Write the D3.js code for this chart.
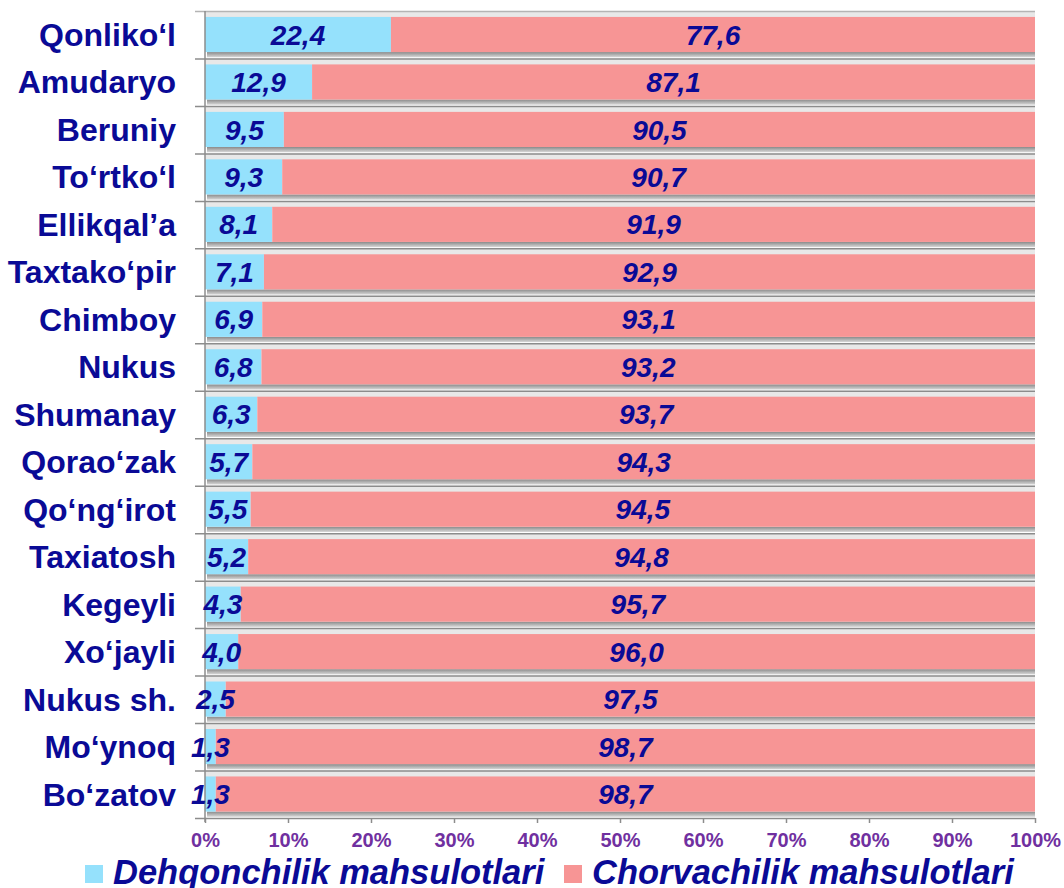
<!DOCTYPE html>
<html>
<head>
<meta charset="utf-8">
<script src="https://cdn.jsdelivr.net/npm/d3@7"></script>
<style>
  body { margin: 0; background: #fff; }
  svg { display: block; font-family: "Liberation Sans", Arial, sans-serif; }
</style>
</head>
<body>
<div id="chart"></div>
<script>
// districts, top to bottom
const districts = ["Qonliko‘l", "Amudaryo", "Beruniy", "To‘rtko‘l", "Ellikqal’a", "Taxtako‘pir",
  "Chimboy", "Nukus", "Shumanay", "Qorao‘zak", "Qo‘ng‘irot", "Taxiatosh", "Kegeyli",
  "Xo‘jayli", "Nukus sh.", "Mo‘ynoq", "Bo‘zatov"];
// share of crop products, %
const dehqonchilik = [22.4, 12.9, 9.5, 9.3, 8.1, 7.1, 6.9, 6.8, 6.3, 5.7, 5.5, 5.2, 4.3, 4.0, 2.5, 1.3, 1.3];
// share of livestock products, %
const chorvachilik = [77.6, 87.1, 90.5, 90.7, 91.9, 92.9, 93.1, 93.2, 93.7, 94.3, 94.5, 94.8, 95.7, 96.0, 97.5, 98.7, 98.7];
const seriesNames = ["Dehqonchilik mahsulotlari", "Chorvachilik mahsulotlari"];
const xTicks = [0, 10, 20, 30, 40, 50, 60, 70, 80, 90, 100];

const width = 1064, height = 888;
const margin = {top: 11, right: 29, bottom: 70, left: 205};
const colors = ["#95e1fc", "#f79595"];
const navy = "#0a0a96";

const rows = districts.map((name, i) => ({name, a: dehqonchilik[i], b: chorvachilik[i]}));

const x = d3.scaleLinear().domain([0, 100]).range([margin.left, width - margin.right]);
const y = d3.scaleBand().domain(districts).range([margin.top, height - margin.bottom]).paddingInner(0);
const bw = y.bandwidth();
const barTop = d => y(d.name) + bw * 0.125;
const barH = bw * 0.74;

const svg = d3.select("#chart").append("svg")
    .attr("width", width)
    .attr("height", height);

const defs = svg.append("defs");
const grad = defs.append("linearGradient").attr("id", "shadow").attr("x1", 0).attr("x2", 0).attr("y1", 0).attr("y2", 1);
grad.append("stop").attr("offset", "0%").attr("stop-color", "#8a8a8a");
grad.append("stop").attr("offset", "100%").attr("stop-color", "#d8d8d8");

// light floor strips above each bar
svg.append("g").selectAll("rect")
  .data(rows)
  .join("rect")
    .attr("x", x(0))
    .attr("y", d => y(d.name))
    .attr("width", x(100) - x(0))
    .attr("height", bw * 0.15)
    .attr("fill", "#e8e8e8");

// shadows under bars
svg.append("g").selectAll("rect")
  .data(rows)
  .join("rect")
    .attr("x", x(0) + 2)
    .attr("y", d => barTop(d) + barH)
    .attr("width", x(100) - x(0) - 2)
    .attr("height", bw * 0.11)
    .attr("fill", "url(#shadow)");

// band separators
svg.append("g").selectAll("line")
  .data(districts)
  .join("line")
    .attr("x1", x(0) - 10)
    .attr("x2", x(100))
    .attr("y1", d => y(d) + 0.5)
    .attr("y2", d => y(d) + 0.5)
    .attr("stroke", d => d === districts[0] ? "#b4b4b4" : "#8c8c8c")
    .attr("stroke-width", 1.5);

// stacked bars
svg.append("g").selectAll("rect")
  .data(rows)
  .join("rect")
    .attr("x", x(0))
    .attr("y", barTop)
    .attr("width", d => x(d.a) - x(0))
    .attr("height", barH)
    .attr("fill", colors[0]);

svg.append("g").selectAll("rect")
  .data(rows)
  .join("rect")
    .attr("x", d => x(d.a))
    .attr("y", barTop)
    .attr("width", d => x(d.a + d.b) - x(d.a))
    .attr("height", barH)
    .attr("fill", colors[1]);

// left axis
svg.append("line")
  .attr("x1", x(0)).attr("x2", x(0))
  .attr("y1", margin.top).attr("y2", height - margin.bottom + 4)
  .attr("stroke", "#8c8c8c").attr("stroke-width", 1.5);

// bottom axis
const xAxis = svg.append("g")
  .attr("transform", `translate(0,${height - margin.bottom})`)
  .call(d3.axisBottom(x).tickValues(xTicks).tickFormat(d => d + "%").tickSize(5).tickPadding(10));
xAxis.select(".domain").attr("stroke", "#8c8c8c").attr("stroke-width", 1.5)
  .attr("d", `M${x(0) - 10},0.5H${x(100)}`);
xAxis.selectAll(".tick line").attr("stroke", "#8c8c8c").attr("stroke-width", 1.5);
xAxis.selectAll(".tick text")
  .attr("fill", "#7030a0")
  .attr("font-size", 20)
  .attr("font-weight", "bold")
  .attr("font-family", "Liberation Sans, Arial, sans-serif");

// category labels
svg.append("g").selectAll("text")
  .data(rows)
  .join("text")
    .attr("x", 176)
    .attr("y", d => barTop(d) + barH / 2)
    .attr("dy", "0.36em")
    .attr("text-anchor", "end")
    .attr("font-size", 32)
    .attr("font-weight", "bold")
    .attr("fill", navy)
    .text(d => d.name);

// value labels
const fmt = v => v.toFixed(1).replace(".", ",");
const valueLabels = svg.append("g")
    .attr("font-size", 28)
    .attr("font-weight", "bold")
    .attr("font-style", "italic")
    .attr("fill", navy)
    .attr("text-anchor", "middle");

valueLabels.selectAll("text.a")
  .data(rows)
  .join("text")
    .attr("class", "a")
    .attr("x", d => x(d.a / 2))
    .attr("y", d => barTop(d) + barH / 2)
    .attr("dy", "0.36em")
    .text(d => fmt(d.a));

valueLabels.selectAll("text.b")
  .data(rows)
  .join("text")
    .attr("class", "b")
    .attr("x", d => x(d.a + d.b / 2))
    .attr("y", d => barTop(d) + barH / 2)
    .attr("dy", "0.36em")
    .text(d => fmt(d.b));

// legend
const legendX = [85, 564];
const legend = svg.append("g").selectAll("g")
  .data(seriesNames)
  .join("g")
    .attr("transform", (d, i) => `translate(${legendX[i]},865)`);
legend.append("rect")
  .attr("width", 18).attr("height", 18)
  .attr("fill", (d, i) => colors[i]);
legend.append("text")
  .attr("x", 28)
  .attr("y", 19)
  .attr("font-size", 34.5)
  .attr("font-weight", "bold")
  .attr("font-style", "italic")
  .attr("fill", navy)
  .text(d => d);
</script>
</body>
</html>
